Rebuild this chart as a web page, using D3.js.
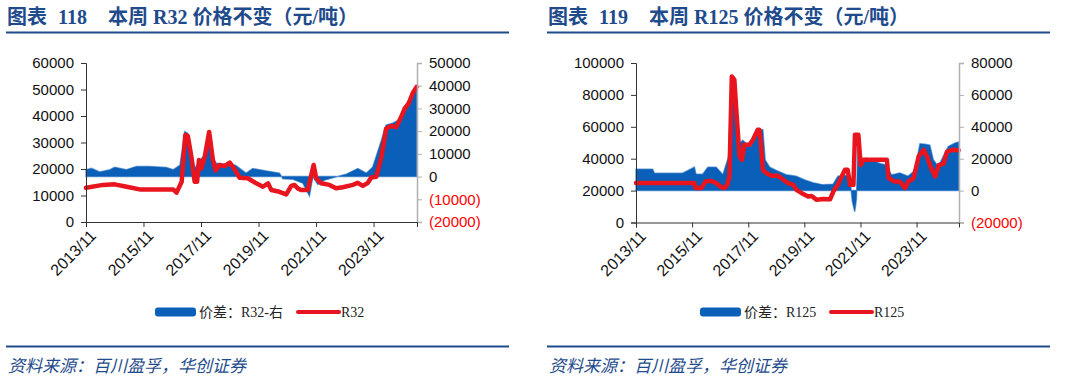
<!DOCTYPE html>
<html>
<head>
<meta charset="utf-8">
<script src="https://cdn.jsdelivr.net/npm/d3@7"></script>
<style>
  body { margin: 0; background: #fff; }
  svg { display: block; }
</style>
</head>
<body>
<script>
// ---- data ----
const xTickLabels = ["2013/11", "2015/11", "2017/11", "2019/11", "2021/11", "2023/11"];

const r32Dates = ["2013-11-01","2014-06-06","2014-11-01","2015-04-01","2015-09-15","2016-11-12","2016-12-25",
  "2017-02-28","2017-04-15","2017-05-18","2017-07-01","2017-08-12","2017-09-12","2017-10-06","2017-11-06",
  "2017-12-18","2018-02-12","2018-04-01","2018-05-06","2018-06-24","2018-08-27","2018-11-01","2019-01-01",
  "2019-03-06","2019-06-18","2019-10-03","2019-12-27","2020-03-01","2020-04-12","2020-07-24","2020-10-18",
  "2020-12-21","2021-02-01","2021-03-12","2021-04-24","2021-07-18","2021-09-01","2021-10-01","2021-11-03",
  "2022-01-06","2022-04-21","2022-07-12","2022-10-06","2023-02-12","2023-04-15","2023-06-18","2023-08-21",
  "2023-10-03","2023-12-06","2024-02-09","2024-04-09","2024-06-12","2024-08-15","2024-10-18","2024-12-01",
  "2025-01-21","2025-03-12","2025-05-01"];
const r32Price = [12900,14000,14200,13300,12300,12300,11100,
  15200,32800,32400,24600,15200,15200,23400,20200,
  24600,34000,23400,19400,21500,21100,22400,19900,
  16700,16500,14600,13300,14600,12100,11400,10400,
  13600,14000,12700,12100,12100,17700,21500,16500,
  14600,14000,12700,13100,14000,14800,13600,14800,
  16800,17100,24600,35300,36200,35800,39700,42900,
  44800,48600,51000];

const r32SpreadDates = ["2013-11-01","2014-01-10","2014-04-24","2014-09-01","2014-11-01","2015-03-28","2015-08-04",
  "2016-01-20","2016-08-18","2016-11-12","2017-02-06","2017-04-09","2017-05-18","2017-07-01","2017-08-12",
  "2017-10-15","2017-12-18","2018-02-12","2018-04-01","2018-05-12","2019-01-12","2019-05-27","2019-08-21",
  "2020-02-09","2020-07-24","2020-09-06","2021-01-12","2021-05-18","2021-08-09","2021-09-21","2021-11-24",
  "2022-02-18","2022-06-01","2022-11-18","2023-04-15","2023-08-01","2023-10-21","2024-01-15","2024-04-09",
  "2024-07-01","2024-09-24","2024-12-18","2025-03-12","2025-05-01"];
const r32Spread = [3000,3600,2000,3000,4100,3000,4400,
  4400,4000,3000,5000,19800,19000,11700,3500,
  7000,9600,14000,8000,5900,5000,1500,3500,
  2500,1500,-1000,-1200,-2900,-8500,0,-3500,
  -1500,-500,1000,3500,1500,4100,13200,22700,
  23500,25000,31700,36800,38400];

const r125Dates = ["2013-11-01","2015-12-01","2015-12-15","2016-03-01","2016-04-24","2016-07-01","2016-09-01",
  "2016-11-12","2016-12-25","2017-02-01","2017-03-01","2017-04-01","2017-05-04","2017-06-04","2017-07-10",
  "2017-08-12","2017-09-12","2017-11-18","2018-01-01","2018-03-04","2018-03-25","2018-04-10","2018-05-10",
  "2018-06-24","2018-09-01","2018-11-25","2019-02-01","2019-04-04","2019-06-10","2019-07-21","2019-09-28",
  "2019-12-21","2020-02-04","2020-04-10","2020-07-04","2020-10-01","2020-11-12","2021-01-10","2021-03-01",
  "2021-04-12","2021-05-18","2021-06-18","2021-08-01","2021-08-21","2021-10-04","2021-11-03","2021-12-10",
  "2022-10-10","2022-11-01","2023-01-04","2023-04-01","2023-06-04","2023-07-18","2023-09-21","2023-11-28",
  "2024-02-01","2024-03-15","2024-05-18","2024-07-01","2024-08-15","2024-10-18","2024-12-01","2025-02-06",
  "2025-05-01"];
const r125Price = [24700,24700,21600,21600,25700,26100,25000,
  22200,21600,23600,28800,91500,89600,66500,41400,
  39300,48700,48700,51900,58100,58100,51900,33000,
  31000,29300,29300,26800,24700,23600,20500,18400,
  16300,16600,14200,14700,14500,19400,23600,28800,
  33000,33000,23600,23600,55000,55000,36000,39300,
  39300,28000,25900,25500,21600,25900,27600,41400,
  45600,41400,33000,28800,36000,37000,44500,45600,
  45300];

const r125SpreadDates = ["2013-11-01","2014-06-06","2014-06-28","2015-07-01","2015-12-01","2015-12-21","2016-03-18",
  "2016-05-24","2016-09-09","2016-12-06","2017-02-18","2017-04-01","2017-05-27","2017-07-10","2017-08-21",
  "2017-10-03","2017-12-09","2018-02-12","2018-03-27","2018-05-10","2018-06-09","2018-08-06","2018-11-01",
  "2019-03-09","2019-07-18","2019-11-06","2020-02-21","2020-07-01","2020-11-09","2021-01-12","2021-06-12",
  "2021-07-18","2021-08-18","2021-09-09","2021-10-01","2021-11-12","2022-01-18","2022-07-09","2022-10-06",
  "2022-12-09","2023-03-27","2023-07-12","2023-10-09","2023-12-15","2024-02-18","2024-04-21","2024-06-06",
  "2024-08-09","2024-10-12","2024-12-18","2025-03-12","2025-05-01"];
const r125Spread = [13400,13400,10900,10900,14700,10300,10300,
  14700,14700,10000,21300,72500,52700,29300,31600,
  29700,27600,33900,38100,38100,19200,14700,12600,
  10000,9000,6700,5000,3600,4000,9000,9800,
  -6900,-13200,-5000,31800,19200,20300,17000,16000,
  9800,11000,9000,12600,29300,29100,28500,19200,
  15100,21300,27600,29700,30500];

const r32LeftTicks = [0, 10000, 20000, 30000, 40000, 50000, 60000];
const r32RightTicks = [-20000, -10000, 0, 10000, 20000, 30000, 40000, 50000];
const r125LeftTicks = [0, 20000, 40000, 60000, 80000, 100000];
const r125RightTicks = [-20000, 0, 20000, 40000, 60000, 80000];

const BLUE = "#0a5fb8";
const RED = "#e8141e";
const NAVY = "#1f4b8c";

const parse = d3.timeParse("%Y-%m-%d");
const tickDate = d3.timeParse("%Y/%m");

const svg = d3.select("body").append("svg")
  .attr("width", 1066)
  .attr("height", 380);

const drawChart = (cfg) => {
  const g = svg.append("g");

  // title in three pieces so the gaps match
  const title = g.append("text")
    .attr("y", 24)
    .attr("fill", NAVY)
    .style("font-family", "'Liberation Serif', 'Noto Sans CJK SC'")
    .style("font-size", "20px")
    .style("font-weight", "bold");
  title.append("tspan").attr("x", cfg.ox + 7).text("图表");
  title.append("tspan").attr("x", cfg.ox + 58).text(cfg.titleNo);
  title.append("tspan").attr("x", cfg.ox + 108).text(cfg.title);

  g.append("line")
    .attr("x1", cfg.ox + 6).attr("x2", cfg.ox + 509)
    .attr("y1", 32.5).attr("y2", 32.5)
    .attr("stroke", NAVY).attr("stroke-width", 2);
  g.append("line")
    .attr("x1", cfg.ox + 6).attr("x2", cfg.ox + 509)
    .attr("y1", 346.5).attr("y2", 346.5)
    .attr("stroke", NAVY).attr("stroke-width", 2);
  g.append("text")
    .attr("x", cfg.ox + 8).attr("y", 372)
    .attr("fill", NAVY)
    .style("font-family", "'Noto Sans CJK SC'")
    .style("font-size", "17px")
    .style("font-style", "italic")
    .text("资料来源：百川盈孚，华创证券");

  const x = d3.scaleTime()
    .domain([parse("2013-11-01"), parse("2025-05-06")])
    .range([cfg.left, cfg.right]);
  const yL = d3.scaleLinear().domain(cfg.leftDomain).range([cfg.bottom, cfg.top]);
  const yR = d3.scaleLinear().domain(cfg.rightDomain).range([cfg.bottom, cfg.top]);

  // spread area on right axis
  const spread = cfg.spreadDates.map((d, i) => ({ date: parse(d), v: cfg.spread[i] }));
  const area = d3.area()
    .x(d => x(d.date))
    .y0(yR(0))
    .y1(d => yR(d.v));
  g.append("path")
    .datum(spread)
    .attr("d", area)
    .attr("fill", BLUE)
    .attr("stroke", BLUE)
    .attr("stroke-width", 1.5)
    .attr("stroke-opacity", 0.6);

  // price line on left axis
  const price = cfg.priceDates.map((d, i) => ({ date: parse(d), v: cfg.price[i] }));
  const line = d3.line().x(d => x(d.date)).y(d => yL(d.v));
  g.append("path")
    .datum(price)
    .attr("d", line)
    .attr("fill", "none")
    .attr("stroke", RED)
    .attr("stroke-width", 4.5)
    .attr("stroke-linejoin", "round")
    .attr("stroke-linecap", "round");

  const fmt = v => v < 0 ? `(${Math.abs(v)})` : `${v}`;

  // left axis
  const axL = g.append("g")
    .attr("transform", `translate(${cfg.left},0)`)
    .call(d3.axisLeft(yL).tickValues(cfg.leftTicks).tickFormat(fmt).tickSizeOuter(0).tickSize(5).tickPadding(7));
  axL.select(".domain").attr("stroke", "#333");
  axL.selectAll(".tick line").attr("stroke", "#333");
  axL.selectAll("text")
    .attr("fill", "#111")
    .style("font-family", "'Liberation Sans', Arial")
    .style("font-size", "15px");

  // right axis
  const axR = g.append("g")
    .attr("transform", `translate(${cfg.right},0)`)
    .call(d3.axisRight(yR).tickValues(cfg.rightTicks).tickFormat(fmt).tickSizeOuter(0).tickSize(5).tickPadding(7));
  axR.select(".domain").attr("stroke", "#b0b0b0").attr("stroke-width", 1.5);
  axR.selectAll(".tick line").attr("stroke", "#b0b0b0");
  axR.selectAll("text")
    .attr("fill", d => d < 0 ? "#ff0000" : "#111")
    .style("font-family", "'Liberation Sans', Arial")
    .style("font-size", "15px");

  // x axis
  const axX = g.append("g")
    .attr("transform", `translate(0,${cfg.bottom})`)
    .call(d3.axisBottom(x)
      .tickValues(xTickLabels.map(tickDate))
      .tickFormat(d3.timeFormat("%Y/%m"))
      .tickSizeOuter(0).tickSize(5));
  axX.select(".domain").attr("stroke", "#333");
  axX.selectAll(".tick line").attr("stroke", "#333");
  axX.selectAll("text")
    .attr("fill", "#111")
    .style("font-family", "'Liberation Sans', Arial")
    .style("font-size", "16px")
    .attr("text-anchor", "end")
    .attr("dy", 0)
    .attr("transform", "translate(5,9) rotate(-45)");

  // legend
  const lg = g.append("g")
    .style("font-family", "'Liberation Serif', 'Noto Sans CJK SC'")
    .style("font-size", "14px")
    .attr("fill", "#222");
  lg.append("rect")
    .attr("x", cfg.legendX).attr("y", 307.5)
    .attr("width", 41).attr("height", 9).attr("rx", 3)
    .attr("fill", BLUE);
  lg.append("text")
    .attr("x", cfg.legendX + 44).attr("y", 317)
    .text(cfg.spreadName);
  lg.append("line")
    .attr("x1", cfg.legendX2).attr("x2", cfg.legendX2 + 41)
    .attr("y1", 312).attr("y2", 312)
    .attr("stroke", RED).attr("stroke-width", 4).attr("stroke-linecap", "round");
  lg.append("text")
    .attr("x", cfg.legendX2 + 43).attr("y", 317)
    .text(cfg.priceName);
};

drawChart({
  ox: 0,
  titleNo: "118",
  title: "本周 R32 价格不变（元/吨）",
  left: 86, right: 417, top: 63, bottom: 222,
  leftDomain: [0, 60000], rightDomain: [-20000, 50000],
  leftTicks: r32LeftTicks, rightTicks: r32RightTicks,
  priceDates: r32Dates, price: r32Price,
  spreadDates: r32SpreadDates, spread: r32Spread,
  spreadName: "价差：R32-右", priceName: "R32",
  legendX: 155, legendX2: 298
});

drawChart({
  ox: 541,
  titleNo: "119",
  title: "本周 R125 价格不变（元/吨）",
  left: 636, right: 959, top: 63, bottom: 222.5,
  leftDomain: [0, 100000], rightDomain: [-20000, 80000],
  leftTicks: r125LeftTicks, rightTicks: r125RightTicks,
  priceDates: r125Dates, price: r125Price,
  spreadDates: r125SpreadDates, spread: r125Spread,
  spreadName: "价差：R125", priceName: "R125",
  legendX: 700, legendX2: 831
});
</script>
</body>
</html>
